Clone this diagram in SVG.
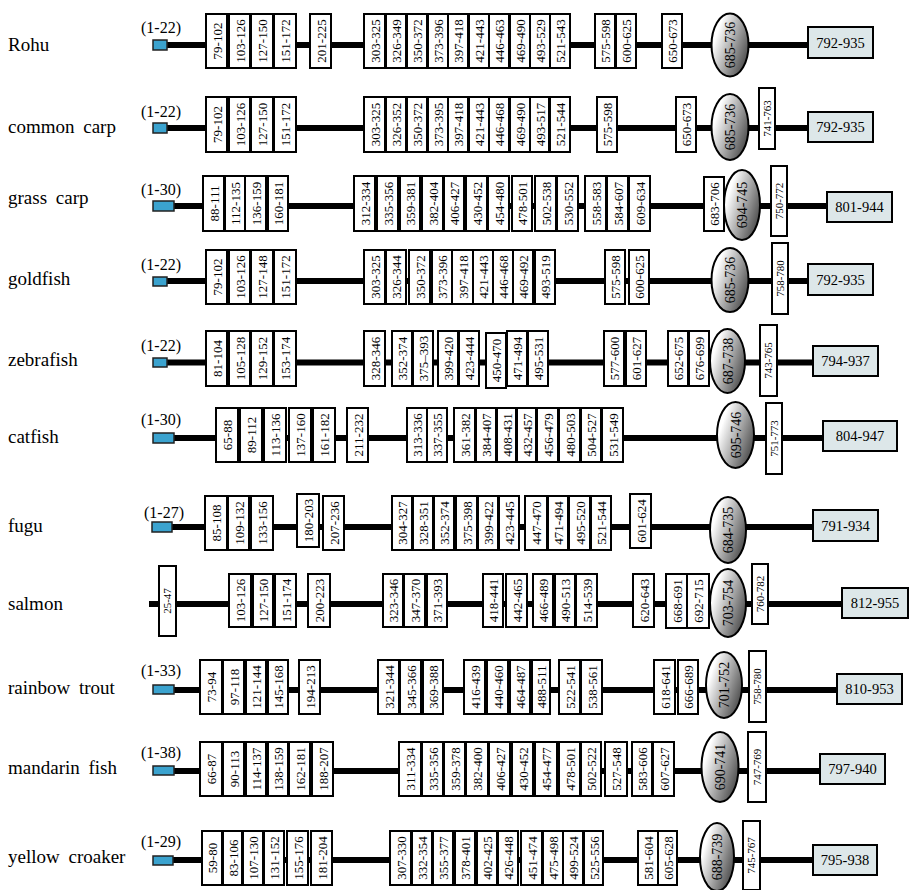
<svg xmlns="http://www.w3.org/2000/svg" width="909" height="890" viewBox="0 0 909 890">
<style>
rect{fill:#fff;stroke:#000;stroke-width:2}
text{font-family:"Liberation Serif","Times New Roman",serif;fill:#000}
.d text{font-size:13px;text-anchor:middle}
.d.nr text{font-size:11px}
.nm{font-size:19px;word-spacing:4px}
.pp{font-size:16px}
rect.bl{fill:#3ba3cf;stroke:#222;stroke-width:1.5}
rect.gr{fill:#dde7e9}
.el ellipse{fill:url(#eg);stroke:#000;stroke-width:2}
.el text{font-size:14px;text-anchor:middle}
.gb text{font-size:14.5px;text-anchor:middle}
#connectors line{stroke:#000;stroke-width:6}
</style>
<defs>
<linearGradient id="eg" x1="0" y1="0" x2="1" y2="0.6">
<stop offset="0.25" stop-color="#fff"/>
<stop offset="1" stop-color="#555"/>
</linearGradient>
</defs>
<rect x="0" y="0" width="909" height="890" style="fill:#fff;stroke:none"/>

<g id="connectors">
<line x1="160" y1="45" x2="808" y2="45"/>
<line x1="160" y1="128" x2="808" y2="128"/>
<line x1="160" y1="206" x2="827" y2="206"/>
<line x1="160" y1="281" x2="808" y2="281"/>
<line x1="160" y1="362.5" x2="813" y2="362.5"/>
<line x1="160" y1="438" x2="823" y2="438"/>
<line x1="160" y1="527" x2="813" y2="527"/>
<line x1="149" y1="604" x2="842" y2="604"/>
<line x1="160" y1="690" x2="837" y2="690"/>
<line x1="160" y1="771" x2="820" y2="771"/>
<line x1="160" y1="860" x2="813" y2="860"/>
</g>

<!-- Row 1 Rohu -->
<g id="rohu">
<text class="nm" x="8" y="51">Rohu</text>
<text class="pp" x="141" y="33">(1-22)</text>
<rect class="bl" x="153" y="40" width="14" height="10"/>
<g class="d" id="rohu-79-102" transform="translate(206,14)"><rect width="21" height="54"/><text transform="rotate(-90)" x="-27" y="15.5">79-102</text></g>
<g class="d" id="rohu-103-126" transform="translate(229,14)"><rect width="21" height="54"/><text transform="rotate(-90)" x="-27" y="15.5">103-126</text></g>
<g class="d" id="rohu-127-150" transform="translate(251,14)"><rect width="22" height="54"/><text transform="rotate(-90)" x="-27" y="16">127-150</text></g>
<g class="d" id="rohu-151-172" transform="translate(274,14)"><rect width="22" height="54"/><text transform="rotate(-90)" x="-27" y="16">151-172</text></g>
<g class="d" id="rohu-201-225" transform="translate(310,14)"><rect width="21" height="54"/><text transform="rotate(-90)" x="-27" y="15.5">201-225</text></g>
<g class="d" id="rohu-303-325" transform="translate(364,14)"><rect width="21" height="54"/><text transform="rotate(-90)" x="-27" y="15.5">303-325</text></g>
<g class="d" id="rohu-326-349" transform="translate(386,14)"><rect width="20" height="54"/><text transform="rotate(-90)" x="-27" y="15">326-349</text></g>
<g class="d" id="rohu-350-372" transform="translate(407,14)"><rect width="20" height="54"/><text transform="rotate(-90)" x="-27" y="15">350-372</text></g>
<g class="d" id="rohu-373-396" transform="translate(428,14)"><rect width="20" height="54"/><text transform="rotate(-90)" x="-27" y="15">373-396</text></g>
<g class="d" id="rohu-397-418" transform="translate(448,14)"><rect width="20" height="54"/><text transform="rotate(-90)" x="-27" y="15">397-418</text></g>
<g class="d" id="rohu-421-443" transform="translate(469,14)"><rect width="20" height="54"/><text transform="rotate(-90)" x="-27" y="15">421-443</text></g>
<g class="d" id="rohu-446-463" transform="translate(489,14)"><rect width="20" height="54"/><text transform="rotate(-90)" x="-27" y="15">446-463</text></g>
<g class="d" id="rohu-469-490" transform="translate(510,14)"><rect width="20" height="54"/><text transform="rotate(-90)" x="-27" y="15">469-490</text></g>
<g class="d" id="rohu-493-529" transform="translate(530,14)"><rect width="20" height="54"/><text transform="rotate(-90)" x="-27" y="15">493-529</text></g>
<g class="d" id="rohu-521-543" transform="translate(550,14)"><rect width="20" height="54"/><text transform="rotate(-90)" x="-27" y="15">521-543</text></g>
<g class="d" id="rohu-575-598" transform="translate(595,14)"><rect width="20" height="54"/><text transform="rotate(-90)" x="-27" y="15">575-598</text></g>
<g class="d" id="rohu-600-625" transform="translate(616,14)"><rect width="20" height="54"/><text transform="rotate(-90)" x="-27" y="15">600-625</text></g>
<g class="d" id="rohu-650-673" transform="translate(662,14)"><rect width="20" height="54"/><text transform="rotate(-90)" x="-27" y="15">650-673</text></g>
<g class="el" id="rohu-685-736"><ellipse cx="730" cy="45" rx="18.5" ry="31.5"/><text transform="translate(735,45) rotate(-90)">685-736</text></g>
<g class="gb" id="rohu-792-935"><rect class="gr" x="808" y="27" width="65" height="31"/><text x="840.5" y="47.5">792-935</text></g>
</g>

<!-- Row 2 common carp -->
<g id="common-carp">
<text class="nm" x="8" y="133">common carp</text>
<text class="pp" x="141" y="117">(1-22)</text>
<rect class="bl" x="153" y="123" width="14" height="10"/>
<g class="d" id="cc-79-102" transform="translate(206,97)"><rect width="21" height="55"/><text transform="rotate(-90)" x="-27.5" y="15.5">79-102</text></g>
<g class="d" id="cc-103-126" transform="translate(229,97)"><rect width="21" height="55"/><text transform="rotate(-90)" x="-27.5" y="15.5">103-126</text></g>
<g class="d" id="cc-127-150" transform="translate(251,97)"><rect width="22" height="55"/><text transform="rotate(-90)" x="-27.5" y="16">127-150</text></g>
<g class="d" id="cc-151-172" transform="translate(274,97)"><rect width="22" height="55"/><text transform="rotate(-90)" x="-27.5" y="16">151-172</text></g>
<g class="d" id="cc-303-325" transform="translate(364,97)"><rect width="21" height="55"/><text transform="rotate(-90)" x="-27.5" y="15.5">303-325</text></g>
<g class="d" id="cc-326-352" transform="translate(386,97)"><rect width="20" height="55"/><text transform="rotate(-90)" x="-27.5" y="15">326-352</text></g>
<g class="d" id="cc-350-372" transform="translate(407,97)"><rect width="20" height="55"/><text transform="rotate(-90)" x="-27.5" y="15">350-372</text></g>
<g class="d" id="cc-373-395" transform="translate(428,97)"><rect width="20" height="55"/><text transform="rotate(-90)" x="-27.5" y="15">373-395</text></g>
<g class="d" id="cc-397-418" transform="translate(448,97)"><rect width="20" height="55"/><text transform="rotate(-90)" x="-27.5" y="15">397-418</text></g>
<g class="d" id="cc-421-443" transform="translate(469,97)"><rect width="20" height="55"/><text transform="rotate(-90)" x="-27.5" y="15">421-443</text></g>
<g class="d" id="cc-446-468" transform="translate(489,97)"><rect width="20" height="55"/><text transform="rotate(-90)" x="-27.5" y="15">446-468</text></g>
<g class="d" id="cc-469-490" transform="translate(510,97)"><rect width="20" height="55"/><text transform="rotate(-90)" x="-27.5" y="15">469-490</text></g>
<g class="d" id="cc-493-517" transform="translate(530,97)"><rect width="19" height="55"/><text transform="rotate(-90)" x="-27.5" y="14.5">493-517</text></g>
<g class="d" id="cc-521-544" transform="translate(550,97)"><rect width="20" height="55"/><text transform="rotate(-90)" x="-27.5" y="15">521-544</text></g>
<g class="d" id="cc-575-598" transform="translate(597,97)"><rect width="20" height="55"/><text transform="rotate(-90)" x="-27.5" y="15">575-598</text></g>
<g class="d" id="cc-650-673" transform="translate(676,97)"><rect width="20" height="55"/><text transform="rotate(-90)" x="-27.5" y="15">650-673</text></g>
<g class="el" id="cc-685-736"><ellipse cx="730" cy="127" rx="18.5" ry="33"/><text transform="translate(735,127) rotate(-90)">685-736</text></g>
<g class="d nr" id="cc-741-763" transform="translate(759,88)"><rect width="16" height="61"/><text transform="rotate(-90)" x="-30.5" y="11.5">741-763</text></g>
<g class="gb" id="cc-792-935"><rect class="gr" x="808" y="112" width="65" height="30"/><text x="840.5" y="132">792-935</text></g>
</g>

<!-- Row 3 grass carp -->
<g id="grass-carp">
<text class="nm" x="8" y="204">grass carp</text>
<text class="pp" x="141" y="195">(1-30)</text>
<rect class="bl" x="153" y="201" width="21" height="10"/>
<g class="d" id="gc-88-111" transform="translate(203,176)"><rect width="21" height="55"/><text transform="rotate(-90)" x="-27.5" y="15.5">88-111</text></g>
<g class="d" id="gc-112-135" transform="translate(225,176)"><rect width="20" height="55"/><text transform="rotate(-90)" x="-27.5" y="15">112-135</text></g>
<g class="d" id="gc-136-159" transform="translate(245,176)"><rect width="21" height="55"/><text transform="rotate(-90)" x="-27.5" y="15.5">136-159</text></g>
<g class="d" id="gc-160-181" transform="translate(268,176)"><rect width="20" height="55"/><text transform="rotate(-90)" x="-27.5" y="15">160-181</text></g>
<g class="d" id="gc-312-334" transform="translate(354,176)"><rect width="21" height="55"/><text transform="rotate(-90)" x="-27.5" y="15.5">312-334</text></g>
<g class="d" id="gc-335-356" transform="translate(377,176)"><rect width="21" height="55"/><text transform="rotate(-90)" x="-27.5" y="15.5">335-356</text></g>
<g class="d" id="gc-359-381" transform="translate(400,176)"><rect width="20" height="55"/><text transform="rotate(-90)" x="-27.5" y="15">359-381</text></g>
<g class="d" id="gc-382-404" transform="translate(422,176)"><rect width="21" height="55"/><text transform="rotate(-90)" x="-27.5" y="15.5">382-404</text></g>
<g class="d" id="gc-406-427" transform="translate(444,176)"><rect width="20" height="55"/><text transform="rotate(-90)" x="-27.5" y="15">406-427</text></g>
<g class="d" id="gc-430-452" transform="translate(466,176)"><rect width="21" height="55"/><text transform="rotate(-90)" x="-27.5" y="15.5">430-452</text></g>
<g class="d" id="gc-454-480" transform="translate(488,176)"><rect width="21" height="55"/><text transform="rotate(-90)" x="-27.5" y="15.5">454-480</text></g>
<g class="d" id="gc-478-501" transform="translate(512,176)"><rect width="20" height="55"/><text transform="rotate(-90)" x="-27.5" y="15">478-501</text></g>
<g class="d" id="gc-502-538" transform="translate(535,176)"><rect width="21" height="55"/><text transform="rotate(-90)" x="-27.5" y="15.5">502-538</text></g>
<g class="d" id="gc-530-552" transform="translate(557,176)"><rect width="21" height="55"/><text transform="rotate(-90)" x="-27.5" y="15.5">530-552</text></g>
<g class="d" id="gc-558-583" transform="translate(585,176)"><rect width="21" height="55"/><text transform="rotate(-90)" x="-27.5" y="15.5">558-583</text></g>
<g class="d" id="gc-584-607" transform="translate(607,176)"><rect width="21" height="55"/><text transform="rotate(-90)" x="-27.5" y="15.5">584-607</text></g>
<g class="d" id="gc-609-634" transform="translate(629,176)"><rect width="21" height="55"/><text transform="rotate(-90)" x="-27.5" y="15.5">609-634</text></g>
<g class="d" id="gc-683-706" transform="translate(704,177)"><rect width="20" height="54"/><text transform="rotate(-90)" x="-27" y="15">683-706</text></g>
<g class="el" id="gc-694-745"><ellipse cx="742" cy="205" rx="18" ry="35"/><text transform="translate(747,205) rotate(-90)">694-745</text></g>
<g class="d nr" id="gc-750-772" transform="translate(771,166)"><rect width="16" height="70"/><text transform="rotate(-90)" x="-35" y="11.5">750-772</text></g>
<g class="gb" id="gc-801-944"><rect class="gr" x="827" y="192" width="65" height="30"/><text x="859.5" y="212">801-944</text></g>
</g>

<!-- Row 4 goldfish -->
<g id="goldfish">
<text class="nm" x="8" y="285">goldfish</text>
<text class="pp" x="141" y="270">(1-22)</text>
<rect class="bl" x="153" y="277" width="14" height="9"/>
<g class="d" id="gf-79-102" transform="translate(206,250)"><rect width="21" height="54"/><text transform="rotate(-90)" x="-27" y="15.5">79-102</text></g>
<g class="d" id="gf-103-126" transform="translate(229,250)"><rect width="21" height="54"/><text transform="rotate(-90)" x="-27" y="15.5">103-126</text></g>
<g class="d" id="gf-127-148" transform="translate(251,250)"><rect width="22" height="54"/><text transform="rotate(-90)" x="-27" y="16">127-148</text></g>
<g class="d" id="gf-151-172" transform="translate(274,250)"><rect width="22" height="54"/><text transform="rotate(-90)" x="-27" y="16">151-172</text></g>
<g class="d" id="gf-303-325" transform="translate(364,250)"><rect width="21" height="54"/><text transform="rotate(-90)" x="-27" y="15.5">303-325</text></g>
<g class="d" id="gf-326-344" transform="translate(386,250)"><rect width="20" height="54"/><text transform="rotate(-90)" x="-27" y="15">326-344</text></g>
<g class="d" id="gf-350-372" transform="translate(409,250)"><rect width="21" height="54"/><text transform="rotate(-90)" x="-27" y="15.5">350-372</text></g>
<g class="d" id="gf-373-396" transform="translate(432,250)"><rect width="20" height="54"/><text transform="rotate(-90)" x="-27" y="15">373-396</text></g>
<g class="d" id="gf-397-418" transform="translate(452,250)"><rect width="21" height="54"/><text transform="rotate(-90)" x="-27" y="15.5">397-418</text></g>
<g class="d" id="gf-421-443" transform="translate(473,250)"><rect width="20" height="54"/><text transform="rotate(-90)" x="-27" y="15">421-443</text></g>
<g class="d" id="gf-446-468" transform="translate(493,250)"><rect width="20" height="54"/><text transform="rotate(-90)" x="-27" y="15">446-468</text></g>
<g class="d" id="gf-469-492" transform="translate(513,250)"><rect width="20" height="54"/><text transform="rotate(-90)" x="-27" y="15">469-492</text></g>
<g class="d" id="gf-493-519" transform="translate(535,250)"><rect width="20" height="54"/><text transform="rotate(-90)" x="-27" y="15">493-519</text></g>
<g class="d" id="gf-575-598" transform="translate(605,250)"><rect width="20" height="54"/><text transform="rotate(-90)" x="-27" y="15">575-598</text></g>
<g class="d" id="gf-600-625" transform="translate(629,250)"><rect width="20" height="54"/><text transform="rotate(-90)" x="-27" y="15">600-625</text></g>
<g class="el" id="gf-685-736"><ellipse cx="730" cy="280" rx="18.5" ry="32"/><text transform="translate(735,280) rotate(-90)">685-736</text></g>
<g class="d nr" id="gf-758-780" transform="translate(772,243)"><rect width="16" height="71"/><text transform="rotate(-90)" x="-35.5" y="11.5">758-780</text></g>
<g class="gb" id="gf-792-935"><rect class="gr" x="808" y="264" width="65" height="31"/><text x="840.5" y="284.5">792-935</text></g>
</g>

<!-- Row 5 zebrafish -->
<g id="zebrafish">
<text class="nm" x="8" y="366">zebrafish</text>
<text class="pp" x="141" y="351">(1-22)</text>
<rect class="bl" x="153" y="358" width="14" height="9"/>
<g class="d" id="zf-81-104" transform="translate(206,331)"><rect width="21" height="55"/><text transform="rotate(-90)" x="-27.5" y="15.5">81-104</text></g>
<g class="d" id="zf-105-128" transform="translate(229,331)"><rect width="21" height="55"/><text transform="rotate(-90)" x="-27.5" y="15.5">105-128</text></g>
<g class="d" id="zf-129-152" transform="translate(251,331)"><rect width="22" height="55"/><text transform="rotate(-90)" x="-27.5" y="16">129-152</text></g>
<g class="d" id="zf-153-174" transform="translate(274,331)"><rect width="22" height="55"/><text transform="rotate(-90)" x="-27.5" y="16">153-174</text></g>
<g class="d" id="zf-328-346" transform="translate(364,331)"><rect width="21" height="55"/><text transform="rotate(-90)" x="-27.5" y="15.5">328-346</text></g>
<g class="d" id="zf-352-374" transform="translate(392,331)"><rect width="20" height="55"/><text transform="rotate(-90)" x="-27.5" y="15">352-374</text></g>
<g class="d" id="zf-375-393" transform="translate(413,331)"><rect width="20" height="55"/><text transform="rotate(-90)" x="-27.5" y="15">375–393</text></g>
<g class="d" id="zf-399-420" transform="translate(438,331)"><rect width="20" height="55"/><text transform="rotate(-90)" x="-27.5" y="15">399-420</text></g>
<g class="d" id="zf-423-444" transform="translate(459,331)"><rect width="20" height="55"/><text transform="rotate(-90)" x="-27.5" y="15">423-444</text></g>
<g class="d" id="zf-450-470" transform="translate(486,333)"><rect width="20" height="55"/><text transform="rotate(-90)" x="-27.5" y="15">450-470</text></g>
<g class="d" id="zf-471-494" transform="translate(507,331)"><rect width="20" height="55"/><text transform="rotate(-90)" x="-27.5" y="15">471-494</text></g>
<g class="d" id="zf-495-531" transform="translate(528,331)"><rect width="20" height="55"/><text transform="rotate(-90)" x="-27.5" y="15">495-531</text></g>
<g class="d" id="zf-577-600" transform="translate(604,331)"><rect width="20" height="55"/><text transform="rotate(-90)" x="-27.5" y="15">577-600</text></g>
<g class="d" id="zf-601-627" transform="translate(626,331)"><rect width="20" height="55"/><text transform="rotate(-90)" x="-27.5" y="15">601-627</text></g>
<g class="d" id="zf-652-675" transform="translate(668,331)"><rect width="20" height="55"/><text transform="rotate(-90)" x="-27.5" y="15">652-675</text></g>
<g class="d" id="zf-676-699" transform="translate(689,331)"><rect width="20" height="55"/><text transform="rotate(-90)" x="-27.5" y="15">676-699</text></g>
<g class="el" id="zf-687-738"><ellipse cx="727.5" cy="361" rx="17.5" ry="32"/><text transform="translate(732.5,361) rotate(-90)">687-738</text></g>
<g class="d nr" id="zf-743-765" transform="translate(760,325)"><rect width="17" height="71"/><text transform="rotate(-90)" x="-35.5" y="12">743-765</text></g>
<g class="gb" id="zf-794-937"><rect class="gr" x="813" y="346" width="65" height="30"/><text x="845.5" y="366">794-937</text></g>
</g>

<!-- Row 6 catfish -->
<g id="catfish">
<text class="nm" x="8" y="443">catfish</text>
<text class="pp" x="141" y="425">(1-30)</text>
<rect class="bl" x="153" y="433" width="21" height="10"/>
<g class="d" id="cf-65-88" transform="translate(216,408)"><rect width="22" height="54"/><text transform="rotate(-90)" x="-27" y="16">65-88</text></g>
<g class="d" id="cf-89-112" transform="translate(240,408)"><rect width="22" height="54"/><text transform="rotate(-90)" x="-27" y="16">89-112</text></g>
<g class="d" id="cf-113-136" transform="translate(264,408)"><rect width="22" height="54"/><text transform="rotate(-90)" x="-27" y="16">113-136</text></g>
<g class="d" id="cf-137-160" transform="translate(289,408)"><rect width="22" height="54"/><text transform="rotate(-90)" x="-27" y="16">137-160</text></g>
<g class="d" id="cf-161-182" transform="translate(313,408)"><rect width="22" height="54"/><text transform="rotate(-90)" x="-27" y="16">161-182</text></g>
<g class="d" id="cf-211-232" transform="translate(347,408)"><rect width="21" height="54"/><text transform="rotate(-90)" x="-27" y="15.5">211-232</text></g>
<g class="d" id="cf-313-336" transform="translate(407,408)"><rect width="20" height="54"/><text transform="rotate(-90)" x="-27" y="15">313-336</text></g>
<g class="d" id="cf-337-355" transform="translate(427,408)"><rect width="20" height="54"/><text transform="rotate(-90)" x="-27" y="15">337-355</text></g>
<g class="d" id="cf-361-382" transform="translate(454,408)"><rect width="21" height="54"/><text transform="rotate(-90)" x="-27" y="15.5">361-382</text></g>
<g class="d" id="cf-384-407" transform="translate(476,408)"><rect width="20" height="54"/><text transform="rotate(-90)" x="-27" y="15">384-407</text></g>
<g class="d" id="cf-408-431" transform="translate(497,408)"><rect width="19" height="54"/><text transform="rotate(-90)" x="-27" y="14.5">408-431</text></g>
<g class="d" id="cf-432-457" transform="translate(517,408)"><rect width="19" height="54"/><text transform="rotate(-90)" x="-27" y="14.5">432-457</text></g>
<g class="d" id="cf-456-479" transform="translate(537,408)"><rect width="21" height="54"/><text transform="rotate(-90)" x="-27" y="15.5">456-479</text></g>
<g class="d" id="cf-480-503" transform="translate(559,408)"><rect width="21" height="54"/><text transform="rotate(-90)" x="-27" y="15.5">480-503</text></g>
<g class="d" id="cf-504-527" transform="translate(581,408)"><rect width="20" height="54"/><text transform="rotate(-90)" x="-27" y="15">504-527</text></g>
<g class="d" id="cf-531-549" transform="translate(602,408)"><rect width="21" height="54"/><text transform="rotate(-90)" x="-27" y="15.5">531-549</text></g>
<g class="el" id="cf-695-746"><ellipse cx="735.5" cy="435" rx="18.5" ry="33"/><text transform="translate(740.5,435) rotate(-90)">695-746</text></g>
<g class="d nr" id="cf-751-773" transform="translate(766,403)"><rect width="16" height="71"/><text transform="rotate(-90)" x="-35.5" y="11.5">751-773</text></g>
<g class="gb" id="cf-804-947"><rect class="gr" x="823" y="421" width="74" height="30"/><text x="860" y="441">804-947</text></g>
</g>

<!-- Row 7 fugu -->
<g id="fugu">
<text class="nm" x="8" y="532">fugu</text>
<text class="pp" x="144" y="518">(1-27)</text>
<rect class="bl" x="152" y="522" width="20" height="10"/>
<g class="d" id="fu-85-108" transform="translate(205,496)"><rect width="22" height="54"/><text transform="rotate(-90)" x="-27" y="16">85-108</text></g>
<g class="d" id="fu-109-132" transform="translate(228,496)"><rect width="21" height="54"/><text transform="rotate(-90)" x="-27" y="15.5">109-132</text></g>
<g class="d" id="fu-133-156" transform="translate(251,496)"><rect width="22" height="54"/><text transform="rotate(-90)" x="-27" y="16">133-156</text></g>
<g class="d" id="fu-180-203" transform="translate(297,494)"><rect width="22" height="53"/><text transform="rotate(-90)" x="-26.5" y="16">180-203</text></g>
<g class="d" id="fu-207-236" transform="translate(323,496)"><rect width="21" height="54"/><text transform="rotate(-90)" x="-27" y="15.5">207-236</text></g>
<g class="d" id="fu-304-327" transform="translate(392,496)"><rect width="20" height="54"/><text transform="rotate(-90)" x="-27" y="15">304-327</text></g>
<g class="d" id="fu-328-351" transform="translate(413,496)"><rect width="20" height="54"/><text transform="rotate(-90)" x="-27" y="15">328-351</text></g>
<g class="d" id="fu-352-374" transform="translate(434,496)"><rect width="20" height="54"/><text transform="rotate(-90)" x="-27" y="15">352-374</text></g>
<g class="d" id="fu-375-398" transform="translate(456,496)"><rect width="21" height="54"/><text transform="rotate(-90)" x="-27" y="15.5">375-398</text></g>
<g class="d" id="fu-399-422" transform="translate(478,496)"><rect width="20" height="54"/><text transform="rotate(-90)" x="-27" y="15">399-422</text></g>
<g class="d" id="fu-423-445" transform="translate(499,496)"><rect width="20" height="54"/><text transform="rotate(-90)" x="-27" y="15">423-445</text></g>
<g class="d" id="fu-447-470" transform="translate(525,496)"><rect width="22" height="54"/><text transform="rotate(-90)" x="-27" y="16">447-470</text></g>
<g class="d" id="fu-471-494" transform="translate(548,496)"><rect width="20" height="54"/><text transform="rotate(-90)" x="-27" y="15">471-494</text></g>
<g class="d" id="fu-495-520" transform="translate(569,496)"><rect width="21" height="54"/><text transform="rotate(-90)" x="-27" y="15.5">495-520</text></g>
<g class="d" id="fu-521-544" transform="translate(591,496)"><rect width="20" height="54"/><text transform="rotate(-90)" x="-27" y="15">521-544</text></g>
<g class="d" id="fu-601-624" transform="translate(630,494)"><rect width="21" height="54"/><text transform="rotate(-90)" x="-27" y="15.5">601-624</text></g>
<g class="el" id="fu-684-735"><ellipse cx="728" cy="530" rx="18" ry="33"/><text transform="translate(733,530) rotate(-90)">684-735</text></g>
<g class="gb" id="fu-791-934"><rect class="gr" x="813" y="510" width="65" height="31"/><text x="845.5" y="530.5">791-934</text></g>
</g>

<!-- Row 8 salmon -->
<g id="salmon">
<text class="nm" x="8" y="610">salmon</text>
<g class="d nr" id="sa-25-47" transform="translate(159,566)"><rect width="17" height="70"/><text transform="rotate(-90)" x="-35" y="12">25-47</text></g>
<g class="d" id="sa-103-126" transform="translate(229,574)"><rect width="22" height="53"/><text transform="rotate(-90)" x="-26.5" y="16">103-126</text></g>
<g class="d" id="sa-127-150" transform="translate(253,574)"><rect width="20" height="53"/><text transform="rotate(-90)" x="-26.5" y="15">127-150</text></g>
<g class="d" id="sa-151-174" transform="translate(275,574)"><rect width="21" height="53"/><text transform="rotate(-90)" x="-26.5" y="15.5">151-174</text></g>
<g class="d" id="sa-200-223" transform="translate(308,574)"><rect width="22" height="53"/><text transform="rotate(-90)" x="-26.5" y="16">200-223</text></g>
<g class="d" id="sa-323-346" transform="translate(383,574)"><rect width="20" height="53"/><text transform="rotate(-90)" x="-26.5" y="15">323-346</text></g>
<g class="d" id="sa-347-370" transform="translate(404,574)"><rect width="21" height="53"/><text transform="rotate(-90)" x="-26.5" y="15.5">347-370</text></g>
<g class="d" id="sa-371-393" transform="translate(427,574)"><rect width="20" height="53"/><text transform="rotate(-90)" x="-26.5" y="15">371-393</text></g>
<g class="d" id="sa-418-441" transform="translate(483,574)"><rect width="20" height="53"/><text transform="rotate(-90)" x="-26.5" y="15">418-441</text></g>
<g class="d" id="sa-442-465" transform="translate(506,574)"><rect width="21" height="53"/><text transform="rotate(-90)" x="-26.5" y="15.5">442-465</text></g>
<g class="d" id="sa-466-489" transform="translate(533,574)"><rect width="20" height="53"/><text transform="rotate(-90)" x="-26.5" y="15">466-489</text></g>
<g class="d" id="sa-490-513" transform="translate(555,574)"><rect width="20" height="53"/><text transform="rotate(-90)" x="-26.5" y="15">490-513</text></g>
<g class="d" id="sa-514-539" transform="translate(576,574)"><rect width="21" height="53"/><text transform="rotate(-90)" x="-26.5" y="15.5">514-539</text></g>
<g class="d" id="sa-620-643" transform="translate(633,574)"><rect width="21" height="53"/><text transform="rotate(-90)" x="-26.5" y="15.5">620-643</text></g>
<g class="d" id="sa-668-691" transform="translate(666,574)"><rect width="21" height="54"/><text transform="rotate(-90)" x="-27" y="15.5">668-691</text></g>
<g class="d" id="sa-692-715" transform="translate(687,574)"><rect width="22" height="54"/><text transform="rotate(-90)" x="-27" y="16">692-715</text></g>
<g class="el" id="sa-703-754"><ellipse cx="728" cy="603" rx="18" ry="34"/><text transform="translate(733,603) rotate(-90)">703-754</text></g>
<g class="d nr" id="sa-760-782" transform="translate(752,564)"><rect width="16" height="60"/><text transform="rotate(-90)" x="-30" y="11.5">760-782</text></g>
<g class="gb" id="sa-812-955"><rect class="gr" x="842" y="588" width="66" height="30"/><text x="875" y="608">812-955</text></g>
</g>

<!-- Row 9 rainbow trout -->
<g id="rainbow-trout">
<text class="nm" x="8" y="694">rainbow trout</text>
<text class="pp" x="141" y="676">(1-33)</text>
<rect class="bl" x="153" y="685" width="21" height="9"/>
<g class="d" id="rt-73-94" transform="translate(200,660)"><rect width="22" height="54"/><text transform="rotate(-90)" x="-27" y="16">73-94</text></g>
<g class="d" id="rt-97-118" transform="translate(223,660)"><rect width="21" height="54"/><text transform="rotate(-90)" x="-27" y="15.5">97-118</text></g>
<g class="d" id="rt-121-144" transform="translate(246,660)"><rect width="20" height="54"/><text transform="rotate(-90)" x="-27" y="15">121-144</text></g>
<g class="d" id="rt-145-168" transform="translate(268,660)"><rect width="20" height="54"/><text transform="rotate(-90)" x="-27" y="15">145-168</text></g>
<g class="d" id="rt-194-213" transform="translate(299,660)"><rect width="21" height="54"/><text transform="rotate(-90)" x="-27" y="15.5">194-213</text></g>
<g class="d" id="rt-321-344" transform="translate(378,660)"><rect width="21" height="54"/><text transform="rotate(-90)" x="-27" y="15.5">321-344</text></g>
<g class="d" id="rt-345-366" transform="translate(400,660)"><rect width="21" height="54"/><text transform="rotate(-90)" x="-27" y="15.5">345-366</text></g>
<g class="d" id="rt-369-388" transform="translate(423,660)"><rect width="20" height="54"/><text transform="rotate(-90)" x="-27" y="15">369-388</text></g>
<g class="d" id="rt-416-439" transform="translate(464,660)"><rect width="21" height="54"/><text transform="rotate(-90)" x="-27" y="15.5">416-439</text></g>
<g class="d" id="rt-440-460" transform="translate(487,660)"><rect width="21" height="54"/><text transform="rotate(-90)" x="-27" y="15.5">440-460</text></g>
<g class="d" id="rt-464-487" transform="translate(510,660)"><rect width="20" height="54"/><text transform="rotate(-90)" x="-27" y="15">464-487</text></g>
<g class="d" id="rt-488-511" transform="translate(532,660)"><rect width="18" height="54"/><text transform="rotate(-90)" x="-27" y="14">488-511</text></g>
<g class="d" id="rt-522-541" transform="translate(559,660)"><rect width="21" height="54"/><text transform="rotate(-90)" x="-27" y="15.5">522-541</text></g>
<g class="d" id="rt-538-561" transform="translate(581,660)"><rect width="21" height="54"/><text transform="rotate(-90)" x="-27" y="15.5">538-561</text></g>
<g class="d" id="rt-618-641" transform="translate(654,660)"><rect width="21" height="54"/><text transform="rotate(-90)" x="-27" y="15.5">618-641</text></g>
<g class="d" id="rt-666-689" transform="translate(678,660)"><rect width="20" height="54"/><text transform="rotate(-90)" x="-27" y="15">666-689</text></g>
<g class="el" id="rt-701-752"><ellipse cx="724" cy="685" rx="18" ry="33"/><text transform="translate(729,685) rotate(-90)">701-752</text></g>
<g class="d nr" id="rt-758-780" transform="translate(749,651)"><rect width="17" height="71"/><text transform="rotate(-90)" x="-35.5" y="12">758-780</text></g>
<g class="gb" id="rt-810-953"><rect class="gr" x="837" y="674" width="65" height="30"/><text x="869.5" y="694">810-953</text></g>
</g>

<!-- Row 10 mandarin fish -->
<g id="mandarin-fish">
<text class="nm" x="8" y="774">mandarin fish</text>
<text class="pp" x="141" y="758">(1-38)</text>
<rect class="bl" x="153" y="766" width="21" height="9"/>
<g class="d" id="mf-66-87" transform="translate(200,742)"><rect width="22" height="54"/><text transform="rotate(-90)" x="-27" y="16">66-87</text></g>
<g class="d" id="mf-90-113" transform="translate(223,742)"><rect width="21" height="54"/><text transform="rotate(-90)" x="-27" y="15.5">90-113</text></g>
<g class="d" id="mf-114-137" transform="translate(246,742)"><rect width="20" height="54"/><text transform="rotate(-90)" x="-27" y="15">114-137</text></g>
<g class="d" id="mf-138-159" transform="translate(268,742)"><rect width="20" height="54"/><text transform="rotate(-90)" x="-27" y="15">138-159</text></g>
<g class="d" id="mf-162-181" transform="translate(289,742)"><rect width="21" height="54"/><text transform="rotate(-90)" x="-27" y="15.5">162-181</text></g>
<g class="d" id="mf-188-207" transform="translate(312,742)"><rect width="21" height="54"/><text transform="rotate(-90)" x="-27" y="15.5">188-207</text></g>
<g class="d" id="mf-311-334" transform="translate(399,742)"><rect width="22" height="54"/><text transform="rotate(-90)" x="-27" y="16">311-334</text></g>
<g class="d" id="mf-335-356" transform="translate(422,742)"><rect width="21" height="54"/><text transform="rotate(-90)" x="-27" y="15.5">335-356</text></g>
<g class="d" id="mf-359-378" transform="translate(444,742)"><rect width="21" height="54"/><text transform="rotate(-90)" x="-27" y="15.5">359-378</text></g>
<g class="d" id="mf-382-400" transform="translate(466,742)"><rect width="22" height="54"/><text transform="rotate(-90)" x="-27" y="16">382-400</text></g>
<g class="d" id="mf-406-427" transform="translate(489,742)"><rect width="21" height="54"/><text transform="rotate(-90)" x="-27" y="15.5">406-427</text></g>
<g class="d" id="mf-430-452" transform="translate(512,742)"><rect width="21" height="54"/><text transform="rotate(-90)" x="-27" y="15.5">430-452</text></g>
<g class="d" id="mf-454-477" transform="translate(535,742)"><rect width="22" height="54"/><text transform="rotate(-90)" x="-27" y="16">454-477</text></g>
<g class="d" id="mf-478-501" transform="translate(559,742)"><rect width="21" height="54"/><text transform="rotate(-90)" x="-27" y="15.5">478-501</text></g>
<g class="d" id="mf-502-522" transform="translate(581,742)"><rect width="20" height="54"/><text transform="rotate(-90)" x="-27" y="15">502-522</text></g>
<g class="d" id="mf-527-548" transform="translate(605,742)"><rect width="22" height="54"/><text transform="rotate(-90)" x="-27" y="16">527-548</text></g>
<g class="d" id="mf-583-606" transform="translate(632,742)"><rect width="20" height="54"/><text transform="rotate(-90)" x="-27" y="15">583-606</text></g>
<g class="d" id="mf-607-627" transform="translate(653,742)"><rect width="21" height="54"/><text transform="rotate(-90)" x="-27" y="15.5">607-627</text></g>
<g class="el" id="mf-690-741"><ellipse cx="720" cy="767" rx="18.5" ry="35"/><text transform="translate(725,767) rotate(-90)">690-741</text></g>
<g class="d nr" id="mf-747-769" transform="translate(748,732)"><rect width="18" height="70"/><text transform="rotate(-90)" x="-35" y="12.5">747-769</text></g>
<g class="gb" id="mf-797-940"><rect class="gr" x="820" y="754" width="65" height="30"/><text x="852.5" y="774">797-940</text></g>
</g>

<!-- Row 11 yellow croaker -->
<g id="yellow-croaker">
<text class="nm" x="8" y="863">yellow croaker</text>
<text class="pp" x="141" y="847">(1-29)</text>
<rect class="bl" x="153" y="856" width="20" height="9"/>
<g class="d" id="yc-59-80" transform="translate(202,831)"><rect width="20" height="54"/><text transform="rotate(-90)" x="-27" y="15">59-80</text></g>
<g class="d" id="yc-83-106" transform="translate(223,831)"><rect width="19" height="54"/><text transform="rotate(-90)" x="-27" y="14.5">83-106</text></g>
<g class="d" id="yc-107-130" transform="translate(243,831)"><rect width="20" height="54"/><text transform="rotate(-90)" x="-27" y="15">107-130</text></g>
<g class="d" id="yc-131-152" transform="translate(264,831)"><rect width="20" height="54"/><text transform="rotate(-90)" x="-27" y="15">131-152</text></g>
<g class="d" id="yc-155-176" transform="translate(287,831)"><rect width="21" height="54"/><text transform="rotate(-90)" x="-27" y="15.5">155-176</text></g>
<g class="d" id="yc-181-204" transform="translate(311,831)"><rect width="21" height="54"/><text transform="rotate(-90)" x="-27" y="15.5">181-204</text></g>
<g class="d" id="yc-307-330" transform="translate(390,831)"><rect width="21" height="54"/><text transform="rotate(-90)" x="-27" y="15.5">307-330</text></g>
<g class="d" id="yc-332-354" transform="translate(412,831)"><rect width="20" height="54"/><text transform="rotate(-90)" x="-27" y="15">332-354</text></g>
<g class="d" id="yc-355-377" transform="translate(433,831)"><rect width="20" height="54"/><text transform="rotate(-90)" x="-27" y="15">355-377</text></g>
<g class="d" id="yc-378-401" transform="translate(455,831)"><rect width="20" height="54"/><text transform="rotate(-90)" x="-27" y="15">378-401</text></g>
<g class="d" id="yc-402-425" transform="translate(477,831)"><rect width="20" height="54"/><text transform="rotate(-90)" x="-27" y="15">402-425</text></g>
<g class="d" id="yc-426-448" transform="translate(498,831)"><rect width="20" height="54"/><text transform="rotate(-90)" x="-27" y="15">426-448</text></g>
<g class="d" id="yc-451-474" transform="translate(521,831)"><rect width="21" height="54"/><text transform="rotate(-90)" x="-27" y="15.5">451-474</text></g>
<g class="d" id="yc-475-498" transform="translate(543,831)"><rect width="20" height="54"/><text transform="rotate(-90)" x="-27" y="15">475-498</text></g>
<g class="d" id="yc-499-524" transform="translate(563,831)"><rect width="20" height="54"/><text transform="rotate(-90)" x="-27" y="15">499-524</text></g>
<g class="d" id="yc-525-556" transform="translate(584,831)"><rect width="19" height="54"/><text transform="rotate(-90)" x="-27" y="14.5">525-556</text></g>
<g class="d" id="yc-581-604" transform="translate(638,831)"><rect width="20" height="54"/><text transform="rotate(-90)" x="-27" y="15">581-604</text></g>
<g class="d" id="yc-605-628" transform="translate(658,831)"><rect width="19" height="54"/><text transform="rotate(-90)" x="-27" y="14.5">605-628</text></g>
<g class="el" id="yc-688-739"><ellipse cx="717" cy="857" rx="17" ry="34"/><text transform="translate(722,857) rotate(-90)">688-739</text></g>
<g class="d nr" id="yc-745-767" transform="translate(743,821)"><rect width="17" height="69"/><text transform="rotate(-90)" x="-34.5" y="12">745-767</text></g>
<g class="gb" id="yc-795-938"><rect class="gr" x="813" y="845" width="64" height="30"/><text x="845" y="865">795-938</text></g>
</g>
</svg>
